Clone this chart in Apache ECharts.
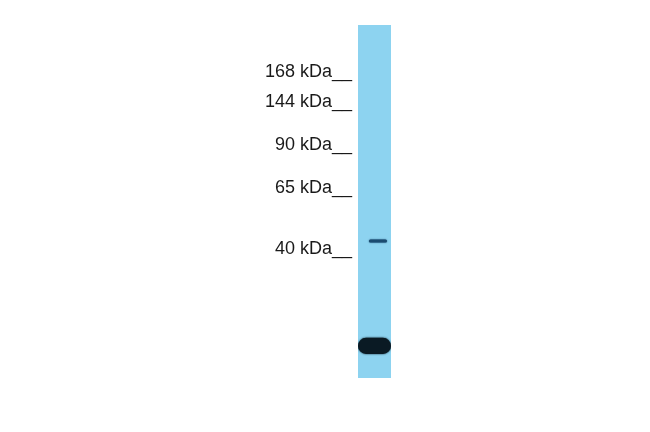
<!DOCTYPE html>
<html>
<head>
<meta charset="utf-8">
<script src="https://cdn.jsdelivr.net/npm/echarts@6/dist/echarts.min.js"></script>
<style>html,body{margin:0;padding:0;background:#fff}#c{width:650px;height:432px}</style>
</head>
<body>
<div id="c"></div>
<script>
// Molecular weight markers (kDa) and their relative migration (0 = top of lane, 1 = bottom)
const markerKDa = [168, 144, 90, 65, 40];
const markerRf = [0.133, 0.218, 0.340, 0.462, 0.635];

// Detected bands: relative migration, band thickness (Rf units), horizontal extent across lane (0-1), intensity (0-1)
const bandRf = [0.612, 0.909];
const bandThickness = [0.009, 0.046];
const bandXStart = [0.33, 0.0];
const bandXEnd = [0.88, 1.0];
const bandIntensity = [0.45, 1.0];

const bandData = bandRf.map((rf, i) => [bandXStart[i], bandXEnd[i], rf, bandThickness[i], bandIntensity[i]]);

function labelFor(v) {
  for (let i = 0; i < markerRf.length; i++) {
    if (Math.abs(markerRf[i] - v) < 1e-6) return markerKDa[i] + ' kDa__';
  }
  return '';
}

function bandColor(intensity) {
  // light blue lane -> dark navy band
  const lo = [40, 115, 175], hi = [10, 26, 36];
  const t = intensity;
  const c = lo.map((l, k) => Math.round(l + (hi[k] - l) * t));
  return 'rgb(' + c.join(',') + ')';
}

function renderBand(params, api) {
  const xs = api.value(0), xe = api.value(1), rf = api.value(2), th = api.value(3), it = api.value(4);
  const p0 = api.coord([xs, rf - th / 2]);
  const p1 = api.coord([xe, rf + th / 2]);
  const h = p1[1] - p0[1];
  const col = bandColor(it);
  return {
    type: 'rect',
    shape: { x: p0[0], y: p0[1], width: p1[0] - p0[0], height: h, r: h / 2 },
    style: { fill: col, shadowBlur: it > 0.9 ? 2 : 1.5, shadowColor: col }
  };
}

const chart = echarts.init(document.getElementById('c'), null, { renderer: 'canvas' });
chart.setOption({
  animation: false,
  backgroundColor: '#ffffff',
  grid: { left: 358, top: 25, width: 33, height: 353, show: true, backgroundColor: '#8dd3f0', borderWidth: 0 },
  xAxis: { type: 'value', min: 0, max: 1, show: false },
  yAxis: {
    type: 'value', min: 0, max: 1, inverse: true,
    axisLine: { show: false }, axisTick: { show: false }, splitLine: { show: false },
    axisLabel: {
      customValues: markerRf,
      formatter: v => labelFor(v),
      fontSize: 18,
      color: '#1a1a1a',
      fontFamily: 'Liberation Sans, Arial, sans-serif',
      margin: 6
    }
  },
  series: [{
    type: 'custom',
    renderItem: renderBand,
    data: bandData,
    clip: true,
    encode: { x: [0, 1], y: 2 }
  }]
});
</script>
</body>
</html>
